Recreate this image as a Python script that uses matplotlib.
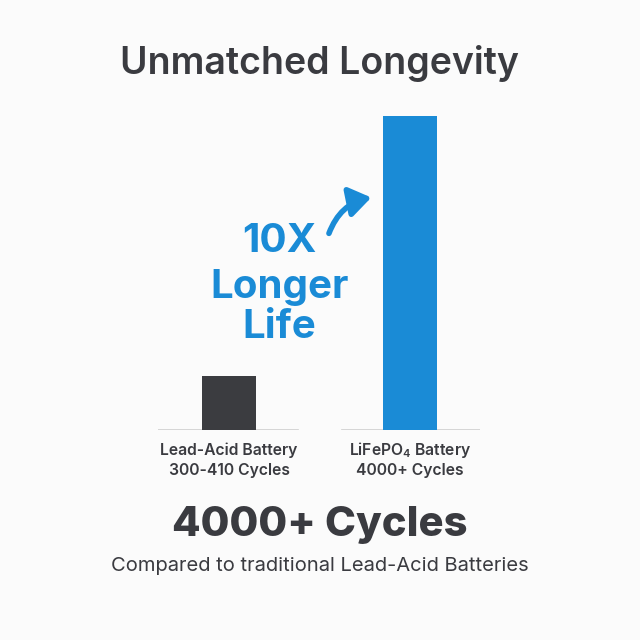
import matplotlib
matplotlib.use('Agg')
import matplotlib.pyplot as plt
from matplotlib.patches import FancyArrowPatch

# Data (bar heights on a cycles scale)
batteries = ['Lead-Acid Battery', 'LiFePO$_4$ Battery']
cycle_labels = ['300-410 Cycles', '4000+ Cycles']
bar_heights = [690, 4000]
bar_colors = ['#3b3c40', '#1a8bd6']

dark = '#3a3b40'
blue = '#1a8bd6'

plt.rcParams['font.family'] = ['Inter', 'DejaVu Sans']
plt.rcParams['mathtext.fontset'] = 'custom'
plt.rcParams['mathtext.rm'] = 'Inter:semibold'
plt.rcParams['mathtext.it'] = 'Inter:semibold'
plt.rcParams['mathtext.bf'] = 'Inter:semibold'

fig = plt.figure(figsize=(6.4, 6.4), dpi=100, facecolor='#fbfbfb')

# bar axes: x 158..480 px, baseline at 430 px, top at 116 px
ax = fig.add_axes([158/640, 1-430/640, 322/640, 314/640])
ax.set_facecolor('none')
x = [0, 1]
ax.bar(x, bar_heights, width=0.298, color=bar_colors, zorder=2)
ax.set_xlim(-0.392, 1.387)
ax.set_ylim(0, 4000)
ax.axhline(0, xmin=0, xmax=0.435, color='#cfcfcf', lw=1.2, zorder=1)
ax.axhline(0, xmin=0.571, xmax=1, color='#cfcfcf', lw=1.2, zorder=1)
for s in ax.spines.values():
    s.set_visible(False)
ax.set_xticks([])
ax.set_yticks([])

# labels under the bars
for i in range(len(batteries)):
    xf = (158 + 71 + 181*i) / 640
    fig.text(xf, 1-450/640, batteries[i], ha='center', va='center',
             fontsize=11.3, fontweight='semibold', color=dark)
    fig.text(xf, 1-470/640, cycle_labels[i], ha='center', va='center',
             fontsize=11.3, fontweight='semibold', color=dark)

# title
fig.text(0.5, 1-64/640, 'Unmatched Longevity', ha='center', va='center',
         fontsize=27, fontweight='semibold', color=dark)

# callout
fig.text(279/640, 1-242/640, '10X', ha='center', va='center',
         fontsize=29, fontweight='bold', color=blue)
fig.text(280/640, 1-288/640, 'Longer', ha='center', va='center',
         fontsize=29, fontweight='bold', color=blue)
fig.text(279/640, 1-327/640, 'Life', ha='center', va='center',
         fontsize=29, fontweight='bold', color=blue)

arrow = FancyArrowPatch((328/640, 1-236/640), (374/640, 1-197/640),
                        transform=fig.transFigure,
                        connectionstyle='arc3,rad=-0.3',
                        arrowstyle='-|>,head_length=13,head_width=9',
                        color=blue, lw=4, mutation_scale=1)
fig.patches.append(arrow)

# bottom text
fig.text(0.5, 1-525/640, '4000+ Cycles', ha='center', va='center',
         fontsize=30, fontweight='heavy', color=dark)
fig.text(0.5, 1-566/640, 'Compared to traditional Lead-Acid Batteries',
         ha='center', va='center', fontsize=14.5, color=dark)

fig.savefig('out.png', dpi=100, facecolor=fig.get_facecolor())
